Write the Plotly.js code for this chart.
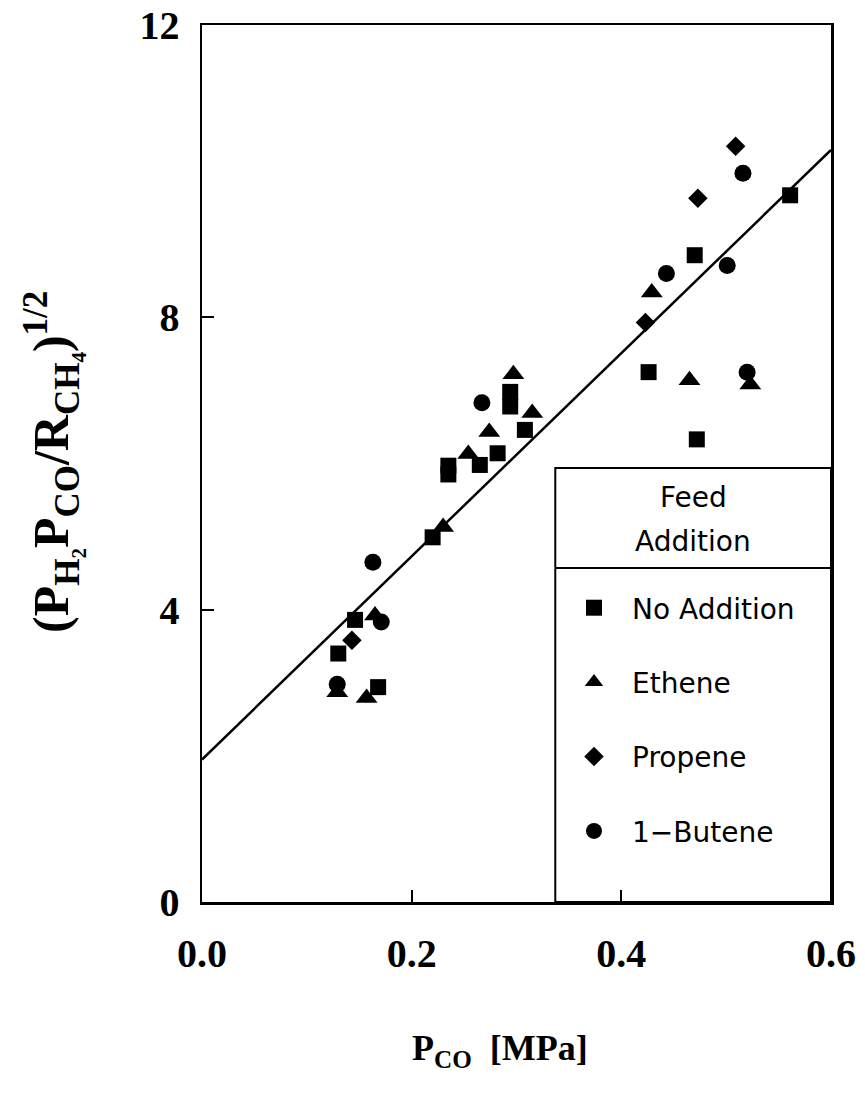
<!DOCTYPE html>
<html>
<head>
<meta charset="utf-8">
<script src="https://cdn.plot.ly/plotly-3.0.1.min.js"></script>
<style>
  html, body { margin: 0; padding: 0; background: #ffffff; }
  #chart { width: 865px; height: 1093px; }
</style>
</head>
<body>
<div id="chart"></div>
<script>
// CO partial pressure [MPa] and linearised rate term for each feed
const noAdditionX = [0.130, 0.146, 0.168, 0.220, 0.235, 0.235, 0.265, 0.282, 0.294, 0.294, 0.308, 0.426, 0.470, 0.472, 0.561];
const noAdditionY = [3.40, 3.86, 2.94, 4.99, 5.85, 5.97, 5.98, 6.14, 6.78, 6.98, 6.46, 7.25, 8.85, 6.33, 9.67];

const etheneX = [0.129, 0.157, 0.165, 0.230, 0.254, 0.274, 0.297, 0.315, 0.429, 0.465, 0.523];
const etheneY = [2.87, 2.79, 3.92, 5.13, 6.13, 6.43, 7.22, 6.69, 8.34, 7.14, 7.08];

const propeneX = [0.143, 0.423, 0.473, 0.509];
const propeneY = [3.58, 7.93, 9.63, 10.34];

const buteneX = [0.129, 0.163, 0.171, 0.267, 0.443, 0.501, 0.516, 0.520];
const buteneY = [2.98, 4.65, 3.83, 6.83, 8.60, 8.71, 9.97, 7.25];

// Least-squares line through all points
const fitIntercept = 1.95;
const fitSlope = 13.9;
const fitX = [0, 0.6];
const fitY = fitX.map(x => fitIntercept + fitSlope * x);

const xTickVals = [0, 0.2, 0.4, 0.6];
const xTickText = ['0.0', '0.2', '0.4', '0.6'];
const yTickVals = [0, 4, 8, 12];

const serif = 'Liberation Serif, Times New Roman, serif';
const sans = 'DejaVu Sans, Liberation Sans, sans-serif';

function series(name, xs, ys, symbol, size, group) {
  return {
    type: 'scatter', mode: 'markers', name: name,
    x: xs, y: ys, legendgroup: group,
    marker: { symbol: symbol, size: size, color: '#000000', line: { width: 0 } },
    cliponaxis: false
  };
}

const traces = [
  {
    type: 'scatter', mode: 'lines', x: fitX, y: fitY,
    line: { color: '#000000', width: 2.5 }, showlegend: false, hoverinfo: 'skip'
  },
  series('No Addition', noAdditionX, noAdditionY, 'square', 16, 'a'),
  series('Ethene', etheneX, etheneY, 'triangle-up', 19, 'b'),
  series('Propene', propeneX, propeneY, 'diamond', 15, 'c'),
  series('1\u2212Butene', buteneX, buteneY, 'circle', 17, 'd')
];

const layout = {
  width: 865, height: 1093,
  margin: { l: 202, r: 34, t: 25, b: 191 },
  paper_bgcolor: '#ffffff', plot_bgcolor: '#ffffff',
  showlegend: true,
  legend: {
    x: (556 - 202) / 629, xanchor: 'left',
    y: (902 - 583) / 877, yanchor: 'top',
    bgcolor: 'rgba(0,0,0,0)', borderwidth: 0,
    traceorder: 'grouped', tracegroupgap: 35,
    itemwidth: 66,
    font: { family: sans, size: 28, color: '#000000' },
    itemsizing: 'trace'
  },
  xaxis: {
    range: [0, 0.6], tickvals: xTickVals, ticktext: xTickText,
    ticks: 'inside', ticklen: 12, tickwidth: 2, tickcolor: '#000000',
    showline: true, linewidth: 2.5, linecolor: '#000000', mirror: true,
    showgrid: false, zeroline: false, ticklabelstandoff: 14,
    tickfont: { family: serif, size: 40, weight: 'bold', color: '#000000' }
  },
  yaxis: {
    range: [0, 12], tickvals: yTickVals,
    ticks: 'inside', ticklen: 12, tickwidth: 2, tickcolor: '#000000',
    showline: true, linewidth: 2.5, linecolor: '#000000', mirror: true,
    showgrid: false, zeroline: false, ticklabelstandoff: 12,
    tickfont: { family: serif, size: 40, weight: 'bold', color: '#000000' }
  },
  shapes: [
    { type: 'rect', xref: 'x', yref: 'y', x0: 0.337, x1: 0.6, y0: 0, y1: 5.94,
      line: { color: '#000000', width: 2 }, fillcolor: 'rgba(0,0,0,0)' },
    { type: 'line', xref: 'x', yref: 'y', x0: 0.337, x1: 0.6, y0: 4.57, y1: 4.57,
      line: { color: '#000000', width: 2 } }
  ],
  annotations: [
    { text: 'Feed', xref: 'x', yref: 'y', x: 0.4685, y: (902 - 497) / 73.1,
      showarrow: false, xanchor: 'center', yanchor: 'middle',
      font: { family: sans, size: 28, color: '#000000' } },
    { text: 'Addition', xref: 'x', yref: 'y', x: 0.4685, y: (902 - 541) / 73.1,
      showarrow: false, xanchor: 'center', yanchor: 'middle',
      font: { family: sans, size: 28, color: '#000000' } },
    { text: 'P<sub>CO</sub>  [MPa]', xref: 'paper', yref: 'paper',
      x: (500 - 202) / 629, y: -(1050 - 902) / 877, showarrow: false,
      xanchor: 'center', yanchor: 'middle',
      font: { family: serif, size: 36, weight: 'bold', color: '#000000' } },
    { text: '(P<sub>H₂</sub>P<sub>CO</sub>/R<sub>CH₄</sub>)<sup>1/2</sup>',
      xref: 'paper', yref: 'paper', textangle: -90,
      x: -(202 - 52) / 629, y: (902 - 462) / 877, showarrow: false,
      xanchor: 'center', yanchor: 'middle',
      font: { family: serif, size: 50, weight: 'bold', color: '#000000' } }
  ]
};

Plotly.newPlot('chart', traces, layout, { staticPlot: true, displayModeBar: false });
</script>
</body>
</html>
